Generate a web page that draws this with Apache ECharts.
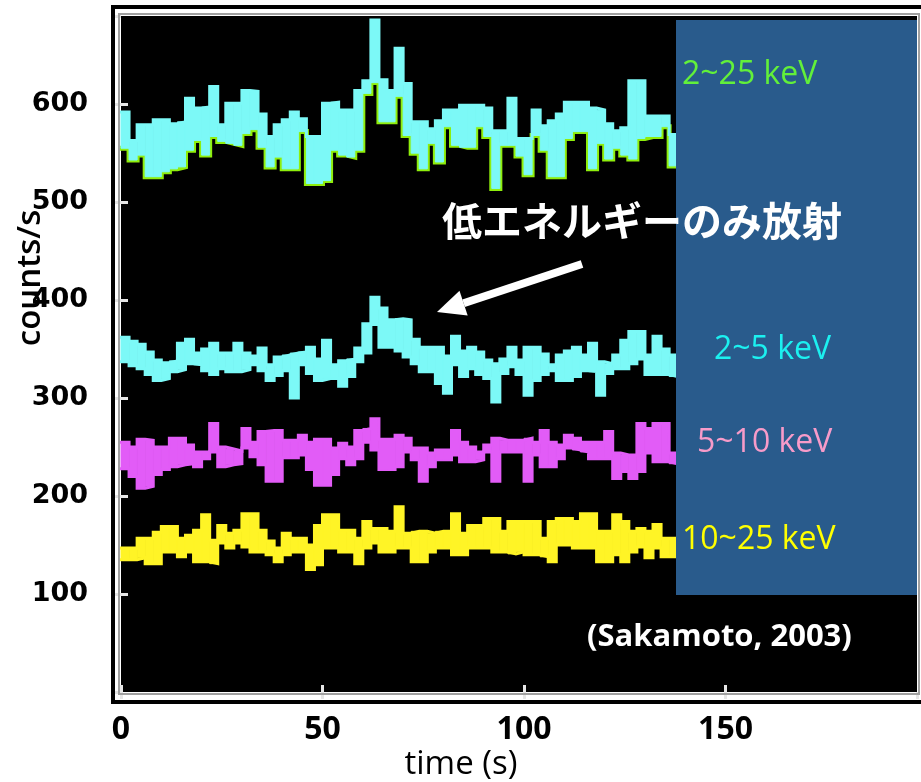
<!DOCTYPE html>
<html>
<head>
<meta charset="utf-8">
<title>GRB light curves</title>
<script src="https://cdn.jsdelivr.net/npm/echarts/dist/echarts.min.js"></script>
<style>
  html, body { margin: 0; padding: 0; background: #ffffff; }
  #chart { width: 921px; height: 782px; }
</style>
</head>
<body>
<div id="chart"></div>
<script>
// Bin start times (s); the last entry closes the final bin.
const binTimes = [0, 2, 4, 6, 8, 10, 12, 14, 16, 18, 20, 22, 24, 26, 28, 30, 32, 34, 36, 38,
  40, 42, 44, 46, 48, 50, 52, 54, 56, 58, 60, 62, 64, 66, 68, 70, 72, 74, 76, 78,
  80, 82, 84, 86, 88, 90, 92, 94, 96, 98, 100, 102, 104, 106, 108, 110, 112, 114, 116, 118,
  120, 122, 124, 126, 128, 130, 132, 134, 136, 138];

// 2~25 keV band: upper / lower edge per bin (counts/s)
const band2to25Upper = [592, 563, 579, 579, 584, 584, 580, 582, 606, 596, 597, 618, 579, 601, 601, 614, 613, 590, 567, 579,
  584, 592, 585, 567, 567, 601, 602, 594, 594, 614, 624, 686, 625, 614, 657, 621, 582, 582, 575, 583,
  594, 594, 599, 599, 599, 596, 573, 573, 606, 565, 565, 594, 578, 583, 590, 602, 602, 602, 596, 594,
  580, 573, 576, 624, 624, 588, 588, 588, 569];
const band2to25Lower = [555, 543, 548, 526, 526, 531, 534, 536, 553, 563, 548, 567, 562, 560, 558, 570, 574, 556, 536, 546,
  534, 534, 572, 519, 519, 522, 553, 548, 546, 553, 611, 622, 582, 582, 608, 568, 550, 534, 560, 541,
  577, 558, 556, 556, 577, 567, 514, 558, 558, 547, 528, 568, 553, 526, 526, 565, 572, 572, 534, 560,
  544, 555, 548, 544, 565, 567, 567, 577, 537];

// 2~5 keV band
const band2to5Upper = [362, 358, 355, 347, 339, 336, 338, 356, 360, 346, 350, 356, 346, 346, 356, 346, 343, 351, 334, 342,
  344, 346, 347, 352, 340, 359, 334, 338, 340, 351, 376, 403, 392, 380, 381, 380, 360, 352, 352, 352,
  343, 363, 348, 352, 347, 339, 335, 340, 352, 339, 352, 352, 345, 334, 344, 348, 352, 344, 356, 337,
  335, 344, 359, 368, 368, 344, 363, 350, 344];
const band2to5Lower = [337, 333, 330, 324, 318, 320, 327, 329, 335, 334, 328, 324, 330, 327, 327, 329, 334, 328, 318, 323,
  328, 300, 334, 325, 318, 320, 320, 312, 322, 337, 346, 375, 352, 352, 348, 342, 335, 327, 327, 315,
  305, 334, 322, 330, 324, 320, 296, 325, 332, 324, 303, 318, 324, 328, 318, 318, 322, 328, 327, 303,
  325, 330, 330, 335, 340, 324, 324, 324, 322];

// 5~10 keV band
const band5to10Upper = [255, 250, 258, 257, 250, 250, 259, 259, 252, 245, 245, 274, 250, 248, 246, 269, 255, 266, 267, 267,
  257, 257, 262, 255, 258, 258, 249, 254, 250, 267, 269, 279, 258, 258, 262, 259, 249, 249, 244, 247,
  247, 267, 255, 250, 245, 252, 259, 257, 257, 257, 259, 255, 267, 255, 252, 262, 259, 255, 255, 255,
  266, 244, 242, 242, 274, 269, 274, 274, 244];
const band5to10Lower = [228, 220, 208, 210, 222, 227, 230, 232, 233, 230, 238, 245, 230, 232, 233, 249, 240, 232, 215, 215,
  239, 239, 242, 227, 211, 211, 222, 238, 232, 238, 255, 247, 227, 227, 230, 245, 237, 215, 230, 237,
  237, 242, 235, 235, 237, 245, 215, 245, 245, 245, 215, 242, 230, 230, 238, 249, 247, 245, 238, 238,
  238, 218, 225, 218, 225, 244, 235, 235, 233];

// 10~25 keV band
const band10to25Upper = [147, 147, 157, 157, 163, 169, 169, 157, 160, 165, 181, 155, 170, 162, 165, 182, 182, 165, 154, 147,
  162, 157, 157, 150, 170, 181, 181, 165, 165, 157, 174, 167, 167, 164, 189, 162, 164, 164, 162, 164,
  164, 182, 162, 170, 170, 177, 177, 164, 174, 174, 174, 174, 157, 174, 177, 177, 174, 182, 182, 164,
  164, 181, 174, 164, 167, 164, 171, 157, 157];
const band10to25Lower = [135, 135, 137, 131, 131, 143, 143, 138, 143, 133, 133, 131, 152, 147, 152, 148, 143, 143, 140, 133,
  140, 143, 143, 125, 130, 147, 147, 143, 143, 131, 147, 152, 143, 143, 147, 147, 133, 133, 143, 147,
  147, 140, 140, 147, 147, 147, 143, 143, 141, 143, 140, 140, 138, 133, 150, 150, 147, 147, 147, 133,
  133, 140, 133, 143, 148, 137, 147, 138, 138];

// Axis tick values
const xTicks = [0, 50, 100, 150];
const yTicks = [100, 200, 300, 400, 500, 600];

// Band labels shown in the side panel
const bandLabels = ['2~25 keV', '2~5 keV', '5~10 keV', '10~25 keV'];

const chart = echarts.init(document.getElementById('chart'), null, { renderer: 'canvas' });

// Step-edge points: each bin value held from its start time to the next.
function stepPoints(values) {
  return binTimes.map((t, i) => [t, values[Math.min(i, values.length - 1)]]);
}

// One band = filled rectangles per bin (custom series) + upper and lower step edges.
function band(id, upper, lower, fill, edgeColor, edgeWidth) {
  const cells = upper.map((u, i) => [binTimes[i], binTimes[i + 1], lower[i], u]);
  return [
    {
      type: 'line', name: id + '-lower', step: 'end',
      data: stepPoints(lower), symbol: 'none', showSymbol: false, silent: true,
      lineStyle: { color: edgeColor, width: edgeWidth, join: 'miter', cap: 'square' },
      z: 2, animation: false
    },
    {
      type: 'custom', name: id, coordinateSystem: 'cartesian2d',
      data: cells, silent: true, animation: false, z: 3,
      encode: { x: [0, 1], y: [2, 3] },
      renderItem: function (params, api) {
        const pTop = api.coord([api.value(0), api.value(3)]);
        const pBot = api.coord([api.value(1), api.value(2)]);
        return {
          type: 'rect',
          shape: { x: pTop[0], y: pTop[1], width: pBot[0] - pTop[0], height: pBot[1] - pTop[1] },
          style: { fill: fill, stroke: fill, lineWidth: 1 }
        };
      }
    },
    {
      type: 'line', name: id + '-upper', step: 'end',
      data: stepPoints(upper), symbol: 'none', showSymbol: false, silent: true,
      lineStyle: { color: fill, width: 3, join: 'miter', cap: 'square' },
      z: 4, animation: false
    }
  ];
}

const CYAN = '#7cf9f7';
const GREEN = '#8fee0c';
const MAGENTA = '#e25cf7';
const YELLOW = '#fff426';

const X_MIN = 0, X_MAX = 197.5, Y_MIN = 0, Y_MAX = 690;

const tickStyle = { show: true, inside: true, length: 7, lineStyle: { color: '#e6e6e6', width: 3 } };

// Arrow geometry (pixels)
const arrowTail = [582, 264], arrowTip = [437, 312];
const adx = arrowTip[0] - arrowTail[0], ady = arrowTip[1] - arrowTail[1];
const alen = Math.sqrt(adx * adx + ady * ady);
const ux = adx / alen, uy = ady / alen, nx = -uy, ny = ux;
const headLen = 28, headHalf = 13;
const baseC = [arrowTip[0] - ux * headLen, arrowTip[1] - uy * headLen];

const option = {
  backgroundColor: '#ffffff',
  animation: false,
  grid: {
    left: 121, top: 16, width: 796, height: 676,
    show: true, backgroundColor: '#000000', borderWidth: 0
  },
  xAxis: [
    {
      type: 'value', min: X_MIN, max: X_MAX, interval: 50, position: 'bottom',
      axisLine: { show: false }, splitLine: { show: false },
      axisTick: tickStyle,
      axisLabel: {
        show: true, margin: 22, color: '#000',
        fontFamily: 'Open Sans', fontWeight: 'bold', fontSize: 32,
        showMinLabel: true, showMaxLabel: false,
        formatter: v => (xTicks.indexOf(v) >= 0 ? String(v) : '')
      }
    },
    {
      type: 'value', min: X_MIN, max: X_MAX, interval: 50, position: 'top',
      axisLine: { show: false }, splitLine: { show: false },
      axisTick: tickStyle, axisLabel: { show: false }
    }
  ],
  yAxis: [
    {
      type: 'value', min: Y_MIN, max: Y_MAX, interval: 100, position: 'left',
      axisLine: { show: false }, splitLine: { show: false },
      axisTick: tickStyle,
      axisLabel: {
        show: true, margin: 33, color: '#000',
        fontFamily: 'DejaVu Sans', fontWeight: 'bold', fontSize: 27,
        showMinLabel: false, showMaxLabel: false,
        formatter: v => (yTicks.indexOf(v) >= 0 ? String(v) : '')
      }
    },
    {
      type: 'value', min: Y_MIN, max: Y_MAX, interval: 100, position: 'right',
      axisLine: { show: false }, splitLine: { show: false },
      axisTick: tickStyle, axisLabel: { show: false }
    }
  ],
  series: [].concat(
    band('e2_25', band2to25Upper, band2to25Lower, CYAN, GREEN, 5),
    band('e2_5', band2to5Upper, band2to5Lower, CYAN, CYAN, 3),
    band('e5_10', band5to10Upper, band5to10Lower, MAGENTA, MAGENTA, 3),
    band('e10_25', band10to25Upper, band10to25Lower, YELLOW, YELLOW, 3)
  ),
  graphic: [
    // plot frame: thin grey inner border and heavy black outer border
    { type: 'rect', z: 50, silent: true, shape: { x: 119, y: 14, width: 800, height: 680 },
      style: { fill: 'none', stroke: '#a0a0a0', lineWidth: 2 } },
    { type: 'rect', z: 50, silent: true, shape: { x: 113, y: 7, width: 830, height: 695 },
      style: { fill: 'none', stroke: '#000000', lineWidth: 4 } },
    // side panel with band names
    { type: 'rect', z: 60, silent: true, shape: { x: 676, y: 20, width: 241, height: 575 },
      style: { fill: '#295b8c' } },
    { type: 'text', z: 61, silent: true, x: 682, y: 75,
      style: { text: bandLabels[0], fill: '#62f03a', font: '32px "Open Sans"', align: 'left', verticalAlign: 'middle' } },
    { type: 'text', z: 61, silent: true, x: 714, y: 350,
      style: { text: bandLabels[1], fill: '#1cf0f0', font: '32px "Open Sans"', align: 'left', verticalAlign: 'middle' } },
    { type: 'text', z: 61, silent: true, x: 697, y: 443,
      style: { text: bandLabels[2], fill: '#f79bc9', font: '32px "Open Sans"', align: 'left', verticalAlign: 'middle' } },
    { type: 'text', z: 61, silent: true, x: 682, y: 540,
      style: { text: bandLabels[3], fill: '#ffff00', font: '32px "Open Sans"', align: 'left', verticalAlign: 'middle' } },
    // citation
    { type: 'text', z: 61, silent: true, x: 587, y: 637,
      style: { text: '(Sakamoto, 2003)', fill: '#ffffff', font: 'bold 31px "Open Sans"', align: 'left', verticalAlign: 'middle' } },
    // annotation and arrow
    { type: 'text', z: 62, silent: true, x: 442, y: 221,
      style: { text: '低エネルギーのみ放射', fill: '#ffffff', font: 'bold 40px "Noto Sans CJK JP"', align: 'left', verticalAlign: 'middle' } },
    { type: 'line', z: 62, silent: true,
      shape: { x1: arrowTail[0], y1: arrowTail[1], x2: baseC[0], y2: baseC[1] },
      style: { stroke: '#ffffff', lineWidth: 8 } },
    { type: 'polygon', z: 62, silent: true,
      shape: { points: [arrowTip,
        [baseC[0] + nx * headHalf, baseC[1] + ny * headHalf],
        [baseC[0] - nx * headHalf, baseC[1] - ny * headHalf]] },
      style: { fill: '#ffffff' } },
    // axis titles
    { type: 'text', z: 61, silent: true, x: 31, y: 278, rotation: Math.PI / 2,
      style: { text: 'counts/s', fill: '#000000', font: '600 33px "Open Sans"', align: 'center', verticalAlign: 'middle' } },
    { type: 'text', z: 61, silent: true, x: 461, y: 765,
      style: { text: 'time (s)', fill: '#000000', font: '33px "Open Sans"', align: 'center', verticalAlign: 'middle' } }
  ]
};

chart.setOption(option);
</script>
</body>
</html>
